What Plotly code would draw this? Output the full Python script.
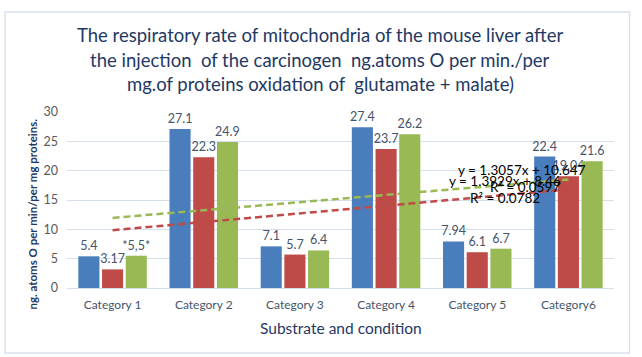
import numpy as np
import plotly.graph_objects as go

categories = ["Category 1", "Category 2", "Category 3", "Category 4", "Category 5", "Category6"]
blue_values = [5.4, 27.1, 7.1, 27.4, 7.94, 22.4]
red_values = [3.17, 22.3, 5.7, 23.7, 6.1, 19.04]
green_values = [5.5, 24.9, 6.4, 26.2, 6.7, 21.6]
blue_labels = ["5.4", "27.1", "7.1", "27.4", "7.94", "22.4"]
red_labels = ["3.17", "22.3", "5.7", "23.7", "6.1", "19.04"]
green_labels = ["*5,5*", "24.9", "6.4", "26.2", "6.7", "21.6"]
y_ticks = [0, 5, 10, 15, 20, 25, 30]

title_lines = ["The respiratory rate of mitochondria of the mouse liver after",
               "the injection  of the carcinogen  ng.atoms O per min./per",
               "mg.of proteins oxidation of  glutamate + malate)"]
x_title = "Substrate and condition"
y_title = "ng. atoms O per min/per mg proteins."

BLUE = "#4A7DBB"
RED = "#BE4B48"
GREEN = "#98B954"
LABEL = "#44546A"
DARK = "#1F3864"
FONT = "Lato"
TITLE_FONT = "Liberation Sans Narrow, Lato"

fig = go.Figure()
for vals, labs, col in [(blue_values, blue_labels, BLUE),
                        (red_values, red_labels, RED),
                        (green_values, green_labels, GREEN)]:
    fig.add_trace(go.Bar(x=categories, y=vals, text=labs, textposition="outside",
                         cliponaxis=False, constraintext="none",
                         textfont=dict(family=FONT, size=12.5, color=LABEL),
                         marker=dict(color=col, line=dict(width=0)),
                         showlegend=False))

xs = np.arange(1, len(categories) + 1)

def fit(vals):
    m, b = np.polyfit(xs, vals, 1)
    pred = m * xs + b
    v = np.array(vals)
    r2 = 1 - np.sum((v - pred) ** 2) / np.sum((v - v.mean()) ** 2)
    return m, b, pred, r2

gm, gb, gpred, gr2 = fit(green_values)
rm, rb, rpred, rr2 = fit(red_values)

fig.add_trace(go.Scatter(x=categories, y=gpred, mode="lines",
                         line=dict(color=GREEN, width=2.5, dash="7px,4px"), showlegend=False))
fig.add_trace(go.Scatter(x=categories, y=rpred, mode="lines",
                         line=dict(color=RED, width=2.5, dash="7px,4px"), showlegend=False))

ann_font = dict(family=FONT, size=13.5, color="#000000")
annotations = [
    dict(x=4.49, y=20.1, text=f"y = {gm:.4f}x + {gb:.3f}"),
    dict(x=4.30, y=18.2, text=f"y = {rm:.4f}x + {rb:.2f}"),
    dict(x=4.52, y=17.2, text=f"R² = {gr2:.4f}"),
    dict(x=4.30, y=15.3, text=f"R² = {rr2:.4f}"),
]
for a in annotations:
    fig.add_annotation(xref="x", yref="y", showarrow=False, font=ann_font, **a)

# plot area: x 66.5..614.5, y 112..288 (pixels)
PH = 176.0
def py(pix):
    return (288 - pix) / PH

for line, ypix in zip(title_lines, [35, 60, 84]):
    fig.add_annotation(xref="paper", yref="paper", x=(320 - 66.5) / 548, y=py(ypix),
                       xanchor="center", yanchor="middle", showarrow=False, text=line,
                       font=dict(family=TITLE_FONT, size=18.5, color=DARK))

fig.add_annotation(xref="paper", yref="paper", x=(341 - 66.5) / 548, y=py(328),
                   xanchor="center", yanchor="middle", showarrow=False, text=x_title,
                   font=dict(family=FONT, size=15.5, color=DARK))
fig.add_annotation(xref="paper", yref="paper", x=(31 - 66.5) / 548, y=py(214),
                   xanchor="center", yanchor="middle", showarrow=False, textangle=-90,
                   text=f"<b>{y_title}</b>",
                   font=dict(family=FONT, size=11.5, color=DARK))

fig.update_layout(
    width=642, height=357,
    margin=dict(l=66.5, r=27.5, t=112, b=69, autoexpand=False),
    paper_bgcolor="white", plot_bgcolor="white",
    barmode="group", bargap=0.22, bargroupgap=0.11,
    xaxis=dict(showgrid=False, showline=True, linecolor="#D6DFEE", linewidth=1,
               ticks="", automargin=False, ticklabelstandoff=6,
               tickfont=dict(family=FONT, size=12, color=LABEL)),
    yaxis=dict(range=[0, 30], tickvals=y_ticks, showgrid=True, gridcolor="#D6DFEE",
               zeroline=False, showline=False, ticks="", automargin=False,
               ticklabelstandoff=8,
               tickfont=dict(family=FONT, size=12.5, color="#595959")),
    font=dict(family=FONT),
)
fig.add_shape(type="rect", xref="paper", yref="paper",
              x0=(4.5 - 66.5) / 548, x1=(630 - 66.5) / 548,
              y0=py(353), y1=py(12), line=dict(color="#D9E2F0", width=1.5),
              layer="below")

fig.write_html("out.html", config={"displayModeBar": False},
               post_script="document.body.style.margin='0';")
